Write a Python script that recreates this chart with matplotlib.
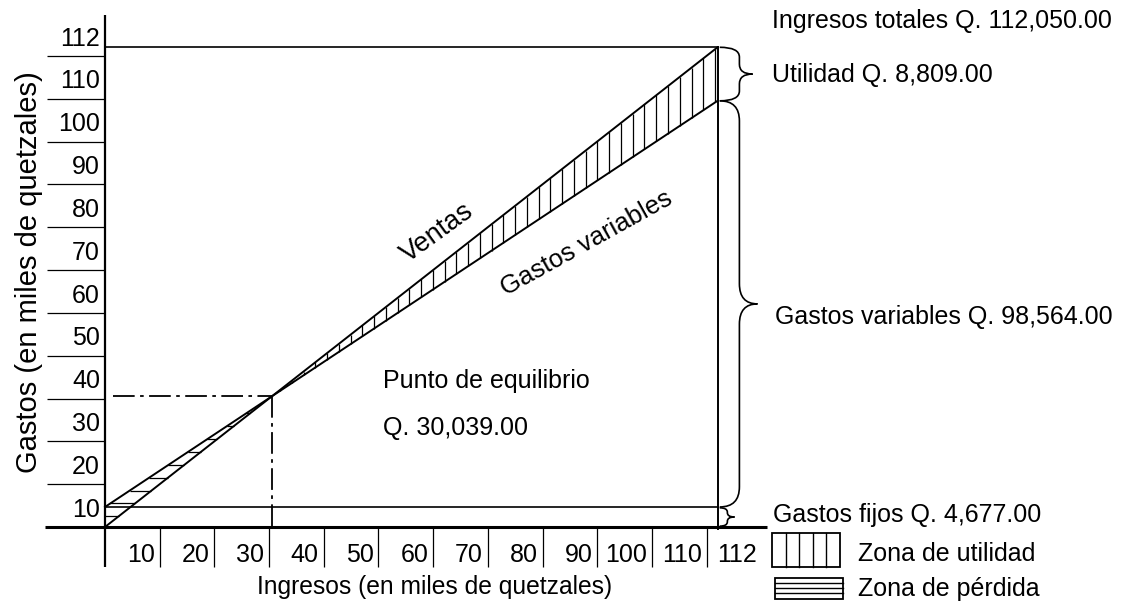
import numpy as np
import matplotlib
matplotlib.use('Agg')
import matplotlib.pyplot as plt
from matplotlib.path import Path
from matplotlib.patches import PathPatch, Rectangle

plt.rcParams['font.family'] = ['Liberation Sans', 'DejaVu Sans']

#######################################
## Data (miles de quetzales)
#######################################
x_ticks = [10, 20, 30, 40, 50, 60, 70, 80, 90, 100, 110]
y_ticks = [10, 20, 30, 40, 50, 60, 70, 80, 90, 100, 110]
ingresos_totales = 112.0      # Q. 112,050.00
gastos_fijos = 4.677          # Q. 4,677.00
costo_total_fin = 99.5        # where the cost line meets x = 112 (as drawn)

ventas_x = [0, ingresos_totales]
ventas_y = [0, ingresos_totales]
costos_x = [0, ingresos_totales]
costos_y = [gastos_fijos, costo_total_fin]

txt_ingresos = "Ingresos totales Q. 112,050.00"
txt_utilidad = "Utilidad Q. 8,809.00"
txt_variables = "Gastos variables Q. 98,564.00"
txt_fijos = "Gastos fijos Q. 4,677.00"
txt_equilibrio = ["Punto de equilibrio", "Q. 30,039.00"]

## break-even from the two lines
slope_c = (costos_y[1] - costos_y[0]) / (costos_x[1] - costos_x[0])
be_x = gastos_fijos / (1 - slope_c)
be_y = be_x

FS = 18
LW = 1.4

fig = plt.figure(figsize=(11.22, 6.02), dpi=100)
ax = fig.add_axes([105/1122, 75/602, 618/1122, 484/602])
ax.set_xlim(0, 113)
ax.set_ylim(0, 113)
ax.patch.set_alpha(0)
for s in ax.spines.values():
    s.set_visible(False)

## ticks (long lines, labels drawn separately between them)
ax.set_xticks(x_ticks)
ax.set_yticks(y_ticks)
ax.tick_params(axis='y', length=42, width=0.9, direction='out', labelleft=False)
ax.tick_params(axis='x', length=29, width=0.9, direction='out', labelbottom=False)

for v in y_ticks:
    ax.text(-0.9, v - 7.6, str(v), ha='right', va='baseline', fontsize=FS, clip_on=False)
ax.text(-0.9, 112.2, "112", ha='right', va='baseline', fontsize=FS, clip_on=False)
for v in x_ticks:
    ax.text(v - 0.9, -8.2, str(v), ha='right', va='baseline', fontsize=FS, clip_on=False)
ax.text(112.0, -8.2, "112", ha='left', va='baseline', fontsize=FS, clip_on=False)

## axes lines
ax.plot([-11, 121], [0, 0], color='black', lw=2.2, clip_on=False, solid_capstyle='butt')
ax.plot([0, 0], [-9.3, 119.5], color='black', lw=1.6, clip_on=False, solid_capstyle='butt')

## frame lines
ax.plot([0, ingresos_totales], [ingresos_totales, ingresos_totales], color='black', lw=1.2, clip_on=False)
ax.plot([ingresos_totales, ingresos_totales], [-0.5, ingresos_totales], color='black', lw=1.4, clip_on=False)
ax.plot([0, ingresos_totales], [gastos_fijos, gastos_fijos], color='black', lw=1.2, clip_on=False)

## sales and cost lines
ax.plot(ventas_x, ventas_y, color='black', lw=LW, clip_on=False)
ax.plot(costos_x, costos_y, color='black', lw=LW, clip_on=False)

## profit zone: vertical hatch
hx = np.arange(be_x + 1.5, ingresos_totales, 2.15)
ax.vlines(hx, gastos_fijos + slope_c * hx, hx, color='black', lw=0.9)

## loss zone: horizontal hatch
hy = np.arange(2.5, be_y - 1, 3.0)
x_left = np.clip((hy - gastos_fijos) / slope_c, 0, None)
ax.hlines(hy, x_left, hy, color='black', lw=0.9)

## break-even dash-dot guides
dd = (0, (12, 3, 2, 3))
ax.plot([1.5, be_x], [be_y, be_y], color='black', lw=1.3, ls=dd)
ax.plot([be_x, be_x], [be_y, 0], color='black', lw=1.3, ls=dd)

## line labels
ax.text(60.7, 68.6, "Ventas", rotation=36, rotation_mode='anchor',
        ha='center', va='center', fontsize=19.5)
ax.text(88.1, 66.3, "Gastos variables", rotation=29, rotation_mode='anchor',
        ha='center', va='center', fontsize=18.5)


def brace(x0, y0, y1, w, tip, r, lw=1.2):
    ym = (y0 + y1) / 2
    xs = x0 + w
    xt = xs + tip
    verts = [(x0, y1), (xs, y1), (xs, y1 - r),
             (xs, ym + r), (xs, ym), (xt, ym),
             (xs, ym), (xs, ym - r),
             (xs, y0 + r), (xs, y0), (x0, y0)]
    codes = [Path.MOVETO, Path.CURVE3, Path.CURVE3,
             Path.LINETO, Path.CURVE3, Path.CURVE3,
             Path.CURVE3, Path.CURVE3,
             Path.LINETO, Path.CURVE3, Path.CURVE3]
    ax.add_patch(PathPatch(Path(verts, codes), fill=False, lw=lw, clip_on=False))


brace(112.4, costo_total_fin, ingresos_totales, 3.6, 2.4, 2.3)
brace(112.4, gastos_fijos, costo_total_fin, 3.6, 3.3, 4.7)
brace(112.4, 0.2, gastos_fijos - 0.2, 1.4, 1.3, 1.0)

#######################################
## Overlay in pixel coords for outside texts / legend
#######################################
ov = fig.add_axes([0, 0, 1, 1])
ov.set_xlim(0, 1122)
ov.set_ylim(602, 0)
ov.axis('off')
ov.patch.set_alpha(0)

ov.text(772, 28, txt_ingresos, fontsize=FS, va='baseline')
ov.text(772, 82, txt_utilidad, fontsize=FS, va='baseline')
ov.text(775, 324, txt_variables, fontsize=FS, va='baseline')
ov.text(773, 522, txt_fijos, fontsize=FS, va='baseline')
ov.text(858, 561, "Zona de utilidad", fontsize=FS, va='baseline')
ov.text(858, 596, "Zona de pérdida", fontsize=FS, va='baseline')
ov.text(383, 388, txt_equilibrio[0], fontsize=FS, va='baseline')
ov.text(383, 435, txt_equilibrio[1], fontsize=FS, va='baseline')

ov.text(435, 594, "Ingresos (en miles de quetzales)", fontsize=17.7, ha='center', va='baseline')
ov.text(37, 272, "Gastos (en miles de quetzales)", fontsize=21, rotation=90,
        ha='center', va='baseline', rotation_mode='anchor')

## legend swatches
ov.add_patch(Rectangle((772, 533), 68, 34, fill=False, lw=1.3, edgecolor='black'))
for xv in [786, 799, 813, 826]:
    ov.plot([xv, xv], [533, 567], color='black', lw=1.0)
ov.add_patch(Rectangle((775, 578), 68, 21, fill=False, lw=1.3, edgecolor='black'))
for yv in [583, 588, 593]:
    ov.plot([775, 843], [yv, yv], color='black', lw=1.0)

fig.savefig('out.png', dpi=100)
